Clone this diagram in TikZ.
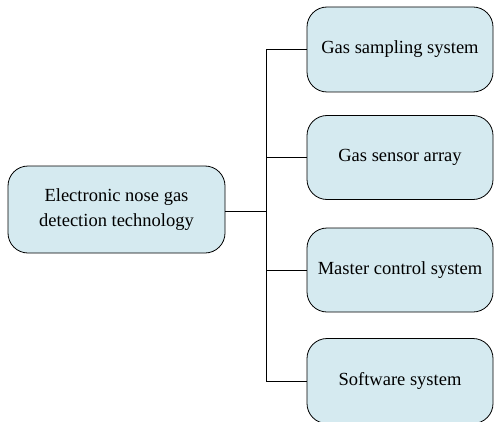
\documentclass[tikz,border=0pt]{standalone}
\usepackage{fontspec}
\setmainfont{Liberation Serif}
\begin{document}
\begin{tikzpicture}[x=1pt,y=1pt,
  box/.style={draw=black, line width=0.8pt, fill=boxfill, rounded corners=20pt, align=center,
    font=\fontsize{18.5}{25}\selectfont, inner sep=0pt},
  conn/.style={draw=black, line width=0.8pt}]
\definecolor{boxfill}{RGB}{213,234,240}
\useasboundingbox (0,0) rectangle (494,421);
\node[box, minimum width=217pt, minimum height=87pt] (root) at (116.5,211.5) {Electronic nose gas\\detection technology};
\node[box, minimum width=186pt, minimum height=85pt] (b1) at (400,371.5) {Gas sampling system};
\node[box, minimum width=186pt, minimum height=84pt] (b2) at (400,263.5) {Gas sensor array};
\node[box, minimum width=186pt, minimum height=84pt] (b3) at (400,151) {Master control system};
\node[box, minimum width=186pt, minimum height=85pt] (b4) at (400,40) {Software system};
\coordinate (j) at (266,210);
\draw[conn] (root.east |- j) -- (j);
\draw[conn] (j) |- (b1.west);
\draw[conn] (j) |- (b2.west);
\draw[conn] (j) |- (b3.west);
\draw[conn] (j) |- (b4.west);
\end{tikzpicture}
\end{document}
